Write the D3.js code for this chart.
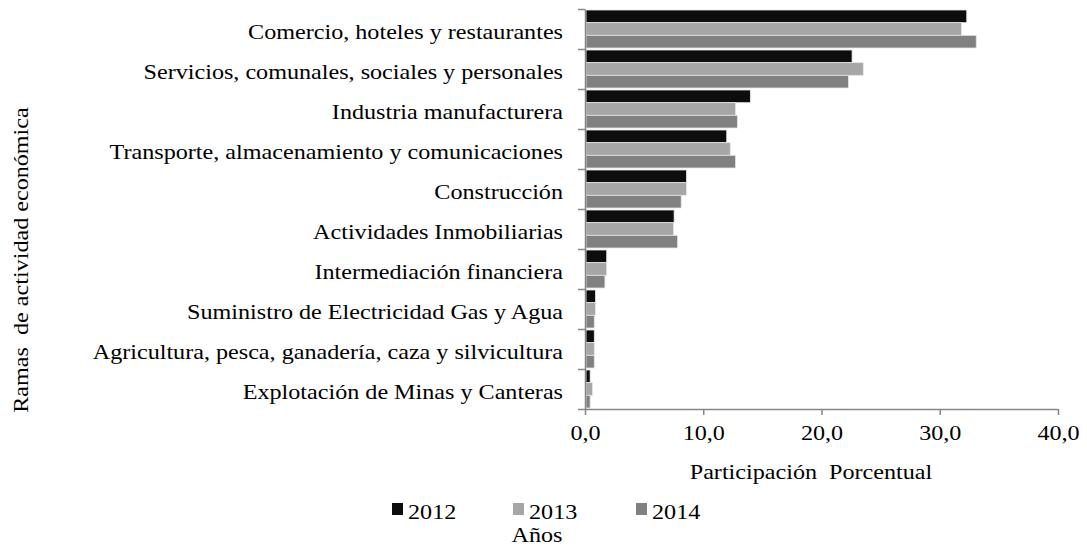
<!DOCTYPE html>
<html>
<head>
<meta charset="utf-8">
<script src="https://cdn.jsdelivr.net/npm/d3@7"></script>
<style>
  body { margin: 0; background: #fff; }
  text { font-family: "Liberation Serif", "Times New Roman", serif; fill: #000; }
</style>
</head>
<body>
<svg id="chart"></svg>
<script>
const WIDTH = 1087;
const HEIGHT = 554;
const X0 = 585, X1 = 1058;
const Y0 = 9, Y1 = 409;
const FONT = 21;
const STRETCH = 1.15; // the source text is drawn a bit wide

const categories = [
  "Comercio, hoteles y restaurantes",
  "Servicios, comunales, sociales y personales",
  "Industria manufacturera",
  "Transporte, almacenamiento y comunicaciones",
  "Construcción",
  "Actividades Inmobiliarias",
  "Intermediación financiera",
  "Suministro de Electricidad Gas y Agua",
  "Agricultura, pesca, ganadería, caza y silvicultura",
  "Explotación de Minas y Canteras"
];
const years = ["2012", "2013", "2014"];
const values2012 = [32.2, 22.5, 13.9, 11.9, 8.5, 7.45, 1.75, 0.8, 0.7, 0.35];
const values2013 = [31.75, 23.45, 12.65, 12.2, 8.5, 7.4, 1.75, 0.8, 0.7, 0.55];
const values2014 = [33.0, 22.2, 12.8, 12.65, 8.05, 7.75, 1.6, 0.7, 0.7, 0.35];
const xTicks = [0, 10, 20, 30, 40];
const colors = ["#0d0d0d", "#a6a6a6", "#808080"];

const series = [values2012, values2013, values2014];

const svg = d3.select("#chart").attr("width", WIDTH).attr("height", HEIGHT);

const x = d3.scaleLinear().domain([0, 40]).range([X0, X1]);
const y = d3.scaleBand().domain(categories).range([Y0, Y1]);
const yInner = d3.scaleBand().domain(years).range([1, y.bandwidth() - 1]);
const color = d3.scaleOrdinal().domain(years).range(colors);

// bars
const groups = svg.append("g").selectAll("g")
  .data(categories)
  .enter()
  .append("g")
  .attr("transform", c => `translate(0,${y(c)})`);

groups.selectAll("rect")
  .data((c, i) => years.map((yr, j) => ({ year: yr, value: series[j][i] })))
  .enter()
  .append("rect")
  .attr("x", x(0) + 1)
  .attr("y", d => yInner(d.year))
  .attr("width", d => x(d.value) - x(0))
  .attr("height", yInner.bandwidth())
  .attr("fill", d => color(d.year))
  .attr("stroke", "#e6e6e6")
  .attr("stroke-width", 0.8);

// x axis
const gx = svg.append("g")
  .attr("transform", `translate(0,${Y1})`)
  .call(d3.axisBottom(x).tickValues(xTicks).tickSize(6).tickSizeOuter(0)
    .tickFormat(d => d3.format(".1f")(d).replace(".", ",")));
gx.select(".domain").attr("stroke", "#868686").attr("stroke-width", 1.5);
gx.selectAll(".tick line").attr("stroke", "#868686").attr("stroke-width", 1.5);
gx.selectAll(".tick text")
  .attr("y", 0).attr("dy", 0)
  .attr("transform", `translate(0,31) scale(${STRETCH},1)`)
  .style("font-size", FONT + "px")
  .style("font-family", "Liberation Serif");

// y axis: ticks sit on the band boundaries
const yEdges = d3.scaleLinear().domain([0, categories.length]).range([Y0, Y1]);
const gy = svg.append("g")
  .attr("transform", `translate(${X0},0)`)
  .call(d3.axisLeft(yEdges).ticks(categories.length).tickSize(7).tickSizeOuter(0).tickFormat(""));
gy.select(".domain").attr("stroke", "#868686").attr("stroke-width", 1.5);
gy.selectAll(".tick line").attr("stroke", "#868686").attr("stroke-width", 1.5);

// category labels
svg.append("g").selectAll("text")
  .data(categories)
  .enter()
  .append("text")
  .attr("transform", c => `translate(563,${y(c) + y.bandwidth() / 2 + 10}) scale(${STRETCH},1)`)
  .attr("text-anchor", "end")
  .style("font-size", FONT + "px")
  .text(c => c);

// axis titles
svg.append("text")
  .attr("transform", `translate(811,479) scale(${STRETCH},1)`)
  .attr("text-anchor", "middle")
  .style("font-size", FONT + "px")
  .style("white-space", "pre")
  .text("Participación  Porcentual");

svg.append("text")
  .attr("transform", `translate(28,260) rotate(-90) scale(${STRETCH},1)`)
  .attr("text-anchor", "middle")
  .style("font-size", FONT + "px")
  .style("white-space", "pre")
  .text("Ramas  de actividad económica");

// legend
const legendX = [392, 513, 636];
const legend = svg.append("g").selectAll("g")
  .data(years)
  .enter()
  .append("g")
  .attr("transform", (d, i) => `translate(${legendX[i]},503)`);
legend.append("rect")
  .attr("width", 11).attr("height", 12)
  .attr("fill", d => color(d));
legend.append("text")
  .attr("transform", `translate(16,16) scale(${STRETCH},1)`)
  .style("font-size", FONT + "px")
  .text(d => d);

svg.append("text")
  .attr("transform", `translate(537,542) scale(${STRETCH},1)`)
  .attr("text-anchor", "middle")
  .style("font-size", FONT + "px")
  .text("Años");
</script>
</body>
</html>
